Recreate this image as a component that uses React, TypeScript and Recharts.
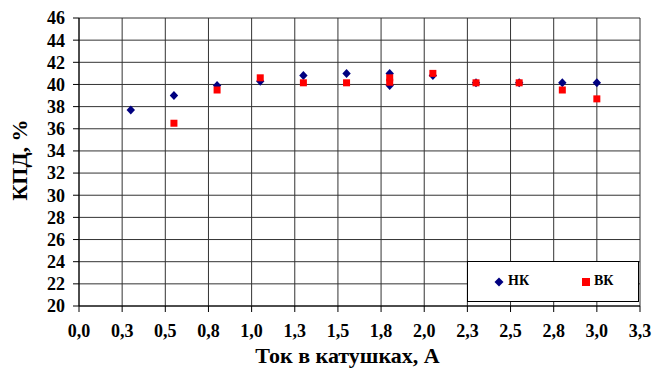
import React from "react";
import {
  ScatterChart,
  Scatter,
  XAxis,
  YAxis,
  CartesianGrid,
  Legend,
  Label,
} from "recharts";

// КПД при различных токах в катушках
const nkCurrent = [0.3, 0.55, 0.8, 1.05, 1.3, 1.55, 1.8, 1.8, 2.05, 2.3, 2.55, 2.8, 3.0];
const nkEfficiency = [37.7, 39.0, 39.9, 40.3, 40.8, 41.0, 41.0, 39.9, 40.8, 40.15, 40.15, 40.15, 40.15];

const vkCurrent = [0.55, 0.8, 1.05, 1.3, 1.55, 1.8, 1.8, 2.05, 2.3, 2.55, 2.8, 3.0];
const vkEfficiency = [36.5, 39.5, 40.6, 40.15, 40.15, 40.6, 40.2, 41.0, 40.15, 40.15, 39.5, 38.7];

const xTicks = [0, 0.25, 0.5, 0.75, 1, 1.25, 1.5, 1.75, 2, 2.25, 2.5, 2.75, 3, 3.25];
const xTickLabels = ["0,0", "0,3", "0,5", "0,8", "1,0", "1,3", "1,5", "1,8", "2,0", "2,3", "2,5", "2,8", "3,0", "3,3"];
const yTicks = [20, 22, 24, 26, 28, 30, 32, 34, 36, 38, 40, 42, 44, 46];

// minor tick marks: 0.05 A and 0.4 %
const xMinor = Array.from({ length: 66 }, (_, i) => +(i * 0.05).toFixed(2));
const yMinor = Array.from({ length: 66 }, (_, i) => +(20 + i * 0.4).toFixed(1));

const NK_COLOR = "#000080";
const VK_COLOR = "#FF0000";
const FONT = "Liberation Serif, DejaVu Serif, serif";

const nkData = nkCurrent.map((x, i) => ({ x, y: nkEfficiency[i] }));
const vkData = vkCurrent.map((x, i) => ({ x, y: vkEfficiency[i] }));

const Diamond = (props: any) => {
  const { cx, cy } = props;
  return (
    <polygon
      points={`${cx},${cy - 4.5} ${cx + 4.2},${cy} ${cx},${cy + 4.5} ${cx - 4.2},${cy}`}
      fill={NK_COLOR}
    />
  );
};

const Square = (props: any) => {
  const { cx, cy } = props;
  return <rect x={cx - 3.5} y={cy - 3.5} width={7} height={7} fill={VK_COLOR} />;
};

const LegendBox = () => (
  <div
    style={{
      position: "relative",
      width: 170,
      height: 39,
      fontFamily: FONT,
      fontWeight: "bold",
      fontSize: 14,
      color: "#000",
    }}
  >
    <svg width={10} height={10} style={{ position: "absolute", left: 26, top: 15 }}>
      <polygon points="5,0.5 9.5,5 5,9.5 0.5,5" fill={NK_COLOR} />
    </svg>
    <span style={{ position: "absolute", left: 40, top: 11 }}>НК</span>
    <svg width={8} height={8} style={{ position: "absolute", left: 114, top: 16 }}>
      <rect x={0} y={0} width={8} height={8} fill={VK_COLOR} />
    </svg>
    <span style={{ position: "absolute", left: 126, top: 11 }}>ВК</span>
  </div>
);

const tickStyle = { fontFamily: FONT, fontWeight: "bold", fontSize: 18, fill: "#000" };

export default function App() {
  return (
    <div style={{ position: "absolute", left: 0, top: 0, background: "#fff", fontFamily: FONT }}>
      <ScatterChart
        width={653}
        height={368}
        margin={{ top: 18, right: 13, bottom: 0, left: 0 }}
        style={{ fontFamily: FONT }}
      >
        <CartesianGrid stroke="#333" strokeWidth={1} />
        {/* minor tick axes, drawn without labels */}
        <XAxis
          xAxisId="minor"
          type="number"
          dataKey="x"
          domain={[0, 3.25]}
          ticks={xMinor}
          interval={0}
          height={0}
          axisLine={false}
          tick={false}
          tickSize={4}
          tickLine={{ stroke: "#000" }}
        />
        <YAxis
          yAxisId="minor"
          type="number"
          dataKey="y"
          domain={[20, 46]}
          ticks={yMinor}
          interval={0}
          width={0}
          axisLine={false}
          tick={false}
          tickSize={4}
          tickLine={{ stroke: "#000" }}
        />
        <XAxis
          type="number"
          dataKey="x"
          domain={[0, 3.25]}
          ticks={xTicks}
          interval={0}
          height={62}
          tickFormatter={(_v: number, i: number) => xTickLabels[i]}
          tick={tickStyle}
          tickSize={6}
          tickMargin={12}
          axisLine={{ stroke: "#000" }}
          tickLine={{ stroke: "#000" }}
        >
          <Label
            content={({ viewBox }: any) => (
              <text
                x={viewBox.x + viewBox.width / 2 - 12}
                y={viewBox.y + viewBox.height - 5}
                textAnchor="middle"
                fontFamily={FONT}
                fontWeight="bold"
                fontSize={22}
                fill="#000"
              >
                Ток в катушках, А
              </text>
            )}
          />
        </XAxis>
        <YAxis
          type="number"
          dataKey="y"
          domain={[20, 46]}
          ticks={yTicks}
          interval={0}
          width={79}
          tick={tickStyle}
          tickSize={6}
          tickMargin={8}
          axisLine={{ stroke: "#000" }}
          tickLine={{ stroke: "#000" }}
        >
          <Label
            content={({ viewBox }: any) => {
              const cy = viewBox.y + viewBox.height / 2 - 2;
              return (
                <text
                  x={27}
                  y={cy}
                  transform={`rotate(-90, 27, ${cy})`}
                  textAnchor="middle"
                  fontFamily={FONT}
                  fontWeight="bold"
                  fontSize={22}
                  fill="#000"
                >
                  КПД, %
                </text>
              );
            }}
          />
        </YAxis>
        <Legend
          layout="horizontal"
          verticalAlign="middle"
          align="center"
          content={() => <LegendBox />}
          wrapperStyle={{
            left: 467,
            top: 261,
            width: 170,
            height: 39,
            border: "1px solid #000",
            background: "#fff",
          }}
        />
        <Scatter name="НК" data={nkData} shape={<Diamond />} isAnimationActive={false} />
        <Scatter name="ВК" data={vkData} shape={<Square />} isAnimationActive={false} />
      </ScatterChart>
    </div>
  );
}
